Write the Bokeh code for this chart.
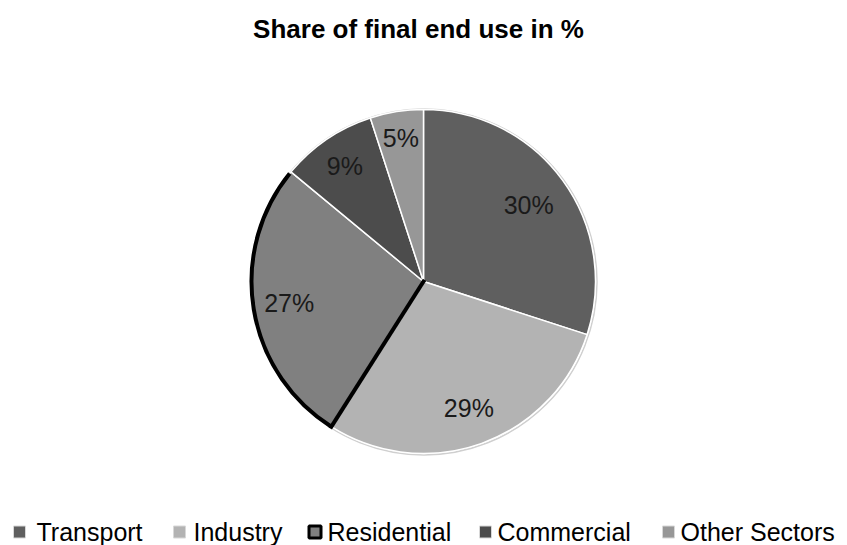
import math
from bokeh.plotting import figure
from bokeh.models import Range1d
from bokeh.core.properties import value
from bokeh.embed import file_html
from bokeh.resources import INLINE

# ---- data ----
categories = ["Transport", "Industry", "Residential", "Commercial", "Other Sectors"]
shares = [30, 29, 27, 9, 5]
colors = ["#5f5f5f", "#b3b3b3", "#808080", "#4c4c4c", "#979797"]
title_text = "Share of final end use in %"

# ---- layout (pixels) ----
W, H = 847, 545
CX, CY = 423, H - 281
R = 172
label_r = [130, 134, 136, 140, 145]
legend_marker_x = [13, 173, 307, 479, 662]
legend_text_x = [36, 193, 327, 497, 680]
LEGEND_Y = H - 531
FONT = value("Liberation Sans")

p = figure(width=W, height=H, output_backend="svg", toolbar_location=None,
           x_range=Range1d(0, W), y_range=Range1d(0, H), min_border=0)
p.axis.visible = False
p.xgrid.visible = False
p.ygrid.visible = False
p.outline_line_color = None
p.background_fill_color = "white"
p.border_fill_color = "white"

# outer faint rim
p.circle(x=[CX + 0.5], y=[CY - 0.5], radius=R + 1, fill_color=None,
         line_color="#cfcfcf", line_width=1.5)

total = float(sum(shares))
cum = 0.0
starts, ends, mids = [], [], []
for s in shares:
    a0 = math.pi / 2 - 2 * math.pi * cum / total
    cum += s
    a1 = math.pi / 2 - 2 * math.pi * cum / total
    starts.append(a0)
    ends.append(a1)
    mids.append((a0 + a1) / 2)

for i in range(len(shares)):
    p.wedge(x=CX, y=CY, radius=R, start_angle=starts[i], end_angle=ends[i],
            direction="clock", fill_color=colors[i], line_color="white",
            line_width=1.5)

# highlighted (selected) Residential slice outline: arc + edge to Industry
hi = categories.index("Residential")
p.arc(x=CX, y=CY, radius=R, start_angle=starts[hi], end_angle=ends[hi] + 0.012,
      direction="clock", line_color="black", line_width=4)
p.segment(x0=[CX], y0=[CY], x1=[CX + R * math.cos(starts[hi])],
          y1=[CY + R * math.sin(starts[hi])], line_color="black", line_width=4,
          line_cap="square")

# slice labels
lx = [CX + label_r[i] * math.cos(mids[i]) for i in range(len(shares))]
ly = [CY + label_r[i] * math.sin(mids[i]) for i in range(len(shares))]
p.text(x=lx, y=ly, text=["%d%%" % s for s in shares], text_font=FONT,
       text_font_size="25px", text_align="center", text_baseline="middle",
       text_color="#1a1a1a")

# title
p.text(x=[418], y=[H - 28], text=[title_text], text_font=FONT,
       text_font_size="26px", text_font_style="bold", text_align="center",
       text_baseline="middle", text_color="black")

# legend
for i, c in enumerate(categories):
    if i == hi:
        p.rect(x=[legend_marker_x[i] + 7.5], y=[LEGEND_Y - 0.5], width=12, height=12,
               fill_color=colors[i], line_color="black", line_width=3)
    else:
        p.rect(x=[legend_marker_x[i] + 6], y=[LEGEND_Y - 0.5], width=12, height=12,
               fill_color=colors[i], line_color="#d8d8d8", line_width=1)
    p.text(x=[legend_text_x[i]], y=[LEGEND_Y], text=[c], text_font=FONT,
           text_font_size="25px", text_align="left", text_baseline="middle",
           text_color="black")

open("out.html", "w").write(file_html(p, INLINE))
